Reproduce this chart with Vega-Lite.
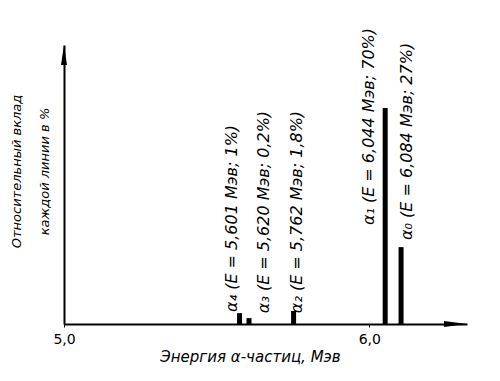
{
  "$schema": "https://vega.github.io/schema/vega-lite/v6.json",
  "width": 403,
  "height": 279,
  "autosize": "none",
  "padding": {"left": 64, "top": 45, "right": 33, "bottom": 57},
  "background": "white",
  "config": {"view": {"stroke": null}, "font": "DejaVu Sans"},
  "datasets": {
    "lines": [
      {"line": "α4", "energy": 5.575, "share": 3.5},
      {"line": "α3", "energy": 5.606, "share": 1.9},
      {"line": "α2", "energy": 5.752, "share": 4.2},
      {"line": "α1", "energy": 6.052, "share": 69.7},
      {"line": "α0", "energy": 6.104, "share": 24.8}
    ],
    "labels": [
      {"text": "α₄ (E = 5,601 Мэв; 1%)", "energy": 5.551, "level": 3.9},
      {"text": "α₃ (E = 5,620 Мэв; 0,2%)", "energy": 5.656, "level": 3.5},
      {"text": "α₂ (E = 5,762 Мэв; 1,8%)", "energy": 5.764, "level": 3.5},
      {"text": "α₁ (E = 6,044 Мэв; 70%)", "energy": 5.998, "level": 31.9},
      {"text": "α₀ (E = 6,084 Мэв; 27%)", "energy": 6.125, "level": 27.1}
    ]
  },
  "layer": [
    {
      "data": {"name": "lines"},
      "mark": {"type": "rule", "strokeWidth": 5, "color": "black"},
      "encoding": {
        "x": {
          "field": "energy",
          "type": "quantitative",
          "scale": {"domain": [5, 6.32], "nice": false, "zero": false},
          "axis": {
            "values": [5, 6],
            "labelExpr": "replace(format(datum.value,'.1f'),'.',',')",
            "title": "Энергия α-частиц, Мэв",
            "titleFontStyle": "italic",
            "titleFontWeight": "normal",
            "titleFontSize": 15,
            "titleColor": "black",
            "titleX": 186,
            "titleY": 32,
            "titleAlign": "center",
            "titleBaseline": "middle",
            "labelFontSize": 14,
            "labelColor": "black",
            "labelFlush": false,
            "labelPadding": 5,
            "domainColor": "black",
            "domainWidth": 2,
            "tickColor": "black",
            "tickSize": 3,
            "grid": false
          }
        },
        "y": {
          "field": "share",
          "type": "quantitative",
          "scale": {"domain": [0, 90], "nice": false},
          "axis": {
            "title": ["Относительный вклад", "каждой линии в %"],
            "labels": false,
            "ticks": false,
            "grid": false,
            "domainColor": "black",
            "domainWidth": 2,
            "titleFontStyle": "italic",
            "titleFontWeight": "normal",
            "titleFontSize": 13,
            "titleColor": "black",
            "titleX": -54,
            "titleY": 126,
            "titleAngle": 270,
            "titleAlign": "center",
            "titleBaseline": "top",
            "titleLineHeight": 28
          }
        },
        "y2": {"datum": 0}
      }
    },
    {
      "data": {"name": "labels"},
      "mark": {"type": "text", "angle": 270, "align": "left", "baseline": "middle", "fontStyle": "italic", "fontSize": 16, "color": "black"},
      "encoding": {
        "x": {"field": "energy", "type": "quantitative"},
        "y": {"field": "level", "type": "quantitative"},
        "text": {"field": "text"}
      }
    },
    {
      "data": {"values": [{"energy": 5.0, "level": 90}]},
      "mark": {"type": "point", "shape": "M0,0L-0.15,1L0.15,1Z", "filled": true, "color": "black", "size": 1600, "opacity": 1},
      "encoding": {
        "x": {"field": "energy", "type": "quantitative"},
        "y": {"field": "level", "type": "quantitative"}
      }
    },
    {
      "data": {"values": [{"energy": 6.32, "level": 0}]},
      "mark": {"type": "point", "shape": "M0,0L-1,-0.13L-1,0.13Z", "filled": true, "color": "black", "size": 2116, "opacity": 1},
      "encoding": {
        "x": {"field": "energy", "type": "quantitative"},
        "y": {"field": "level", "type": "quantitative"}
      }
    }
  ]
}
